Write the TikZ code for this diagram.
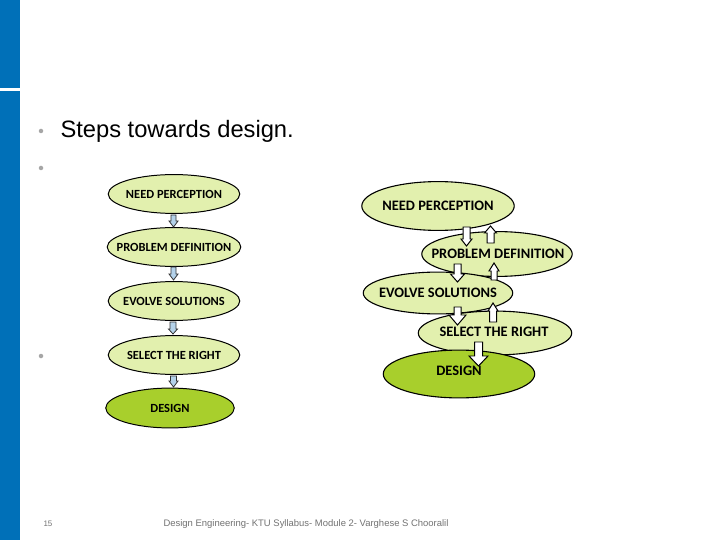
\documentclass[tikz,border=0pt]{standalone}
\usepackage{fontspec}
\setmainfont{Liberation Sans}
\newfontfamily\stepfont{Carlito}
\usepackage{tikz}
\usetikzlibrary{shapes.geometric}

\definecolor{barblue}{HTML}{0070B8}
\definecolor{palegreen}{HTML}{E2F0AE}
\definecolor{darkgreen}{HTML}{A8CF2C}
\definecolor{arrblue}{HTML}{B4D2EA}
\definecolor{dotgrey}{HTML}{A6A6A6}

% block arrow: x, base y, head y, tip y, shaft half width, head half width
\newcommand{\blockarr}[7][]{%
  \draw[#1] (#2-#6,#3) -- (#2-#6,#4) -- (#2-#7,#4) -- (#2,#5)
    -- (#2+#7,#4) -- (#2+#6,#4) -- (#2+#6,#3) -- cycle;}

\tikzset{
  stage/.style={ellipse,draw=black,line width=1pt,fill=palegreen,inner sep=0pt},
  bigstage/.style={stage,line width=1.1pt},
  final/.style={fill=darkgreen},
  stagetext/.style={inner sep=0pt,font=\stepfont\bfseries\fontsize{12.5}{14}\selectfont},
  bigtext/.style={inner sep=0pt,font=\stepfont\bfseries\fontsize{14.5}{16}\selectfont},
  larr/.style={draw=black!80,fill=arrblue,line width=0.8pt},
  rarr/.style={draw=black,fill=white,line width=1pt},
  bulletdot/.style={circle,fill=dotgrey,inner sep=0pt,minimum size=4.5bp}
}

\begin{document}
\begin{tikzpicture}[x=1bp,y=-1bp]
\useasboundingbox (0,0) rectangle (720,540);
\fill[white] (0,0) rectangle (720,540);

% side bar
\fill[barblue] (0,0) rectangle (20,540);
\fill[white] (0,88) rectangle (20,91);

% bullets and title
\node[bulletdot] (b1) at (41,131) {};
\node[bulletdot] (b2) at (41,168) {};
\node[bulletdot] (b3) at (41,356) {};
\node[anchor=base west,font=\fontsize{23.8}{26}\selectfont] (title) at (57,138) {Steps towards design.};

% left column
\node[stage,minimum width=132,minimum height=39] (lneed) at (174,194) {};
\node[stage,minimum width=134,minimum height=39] (lprob) at (174,247) {};
\node[stage,minimum width=132,minimum height=39] (levolve) at (174,301) {};
\node[stage,minimum width=132,minimum height=39] (lselect) at (174,355) {};
\node[stage,final,minimum width=129,minimum height=40] (ldesign) at (170,408) {};
\node[stagetext] (tlneed) at (lneed) {NEED PERCEPTION};
\node[stagetext] (tlprob) at (lprob) {PROBLEM DEFINITION};
\node[stagetext] (tlevolve) at (levolve) {EVOLVE SOLUTIONS};
\node[stagetext] (tlselect) at (lselect) {SELECT THE RIGHT};
\node[stagetext] (tldesign) at (ldesign) {DESIGN};

\blockarr[larr]{173.5}{215}{221}{227}{2.5}{4.5}
\blockarr[larr]{173.5}{267}{274}{280}{2.5}{4.5}
\blockarr[larr]{173}{322}{329}{334}{3}{4.5}
\blockarr[larr]{173.5}{376}{381}{387}{3}{4.5}

% right column
\node[bigstage,minimum width=153,minimum height=49] (rneed) at (438,206) {};
\node[bigstage,minimum width=151,minimum height=45] (rprob) at (497,254) {};
\node[bigstage,minimum width=150,minimum height=42] (revolve) at (438,293) {};
\node[bigstage,minimum width=154,minimum height=44] (rselect) at (495,333) {};
\node[bigstage,final,minimum width=152,minimum height=48] (rdesign) at (459,374) {};

\blockarr[rarr]{466.5}{227}{239}{246}{3.5}{5.5}
\blockarr[rarr]{490.5}{243}{233}{226}{3.5}{6}
\blockarr[rarr]{457.5}{264}{274}{282}{3.5}{7}
\blockarr[rarr]{494}{280}{271}{263}{3}{5}
\blockarr[rarr]{457.5}{307}{315}{325}{3.5}{8.5}
\blockarr[rarr]{493}{322}{311}{303}{3.5}{5}
\blockarr[rarr]{478.5}{342}{356}{366}{4}{9.5}

\node[bigtext] (trneed) at (438,206) {NEED PERCEPTION};
\node[bigtext] (trprob) at (498,254) {PROBLEM DEFINITION};
\node[bigtext] (trevolve) at (438,293) {EVOLVE SOLUTIONS};
\node[bigtext] (trselect) at (494,332) {SELECT THE RIGHT};
\node[bigtext] (trdesign) at (459,371) {DESIGN};

% footer
\node[font=\fontsize{8}{9}\selectfont,text=black!55] (pageno) at (48,524) {15};
\node[font=\fontsize{9.5}{11}\selectfont,text=black!55] (footer) at (306,524)
  {Design Engineering- KTU Syllabus- Module 2- Varghese S Chooralil};
\end{tikzpicture}
\end{document}
